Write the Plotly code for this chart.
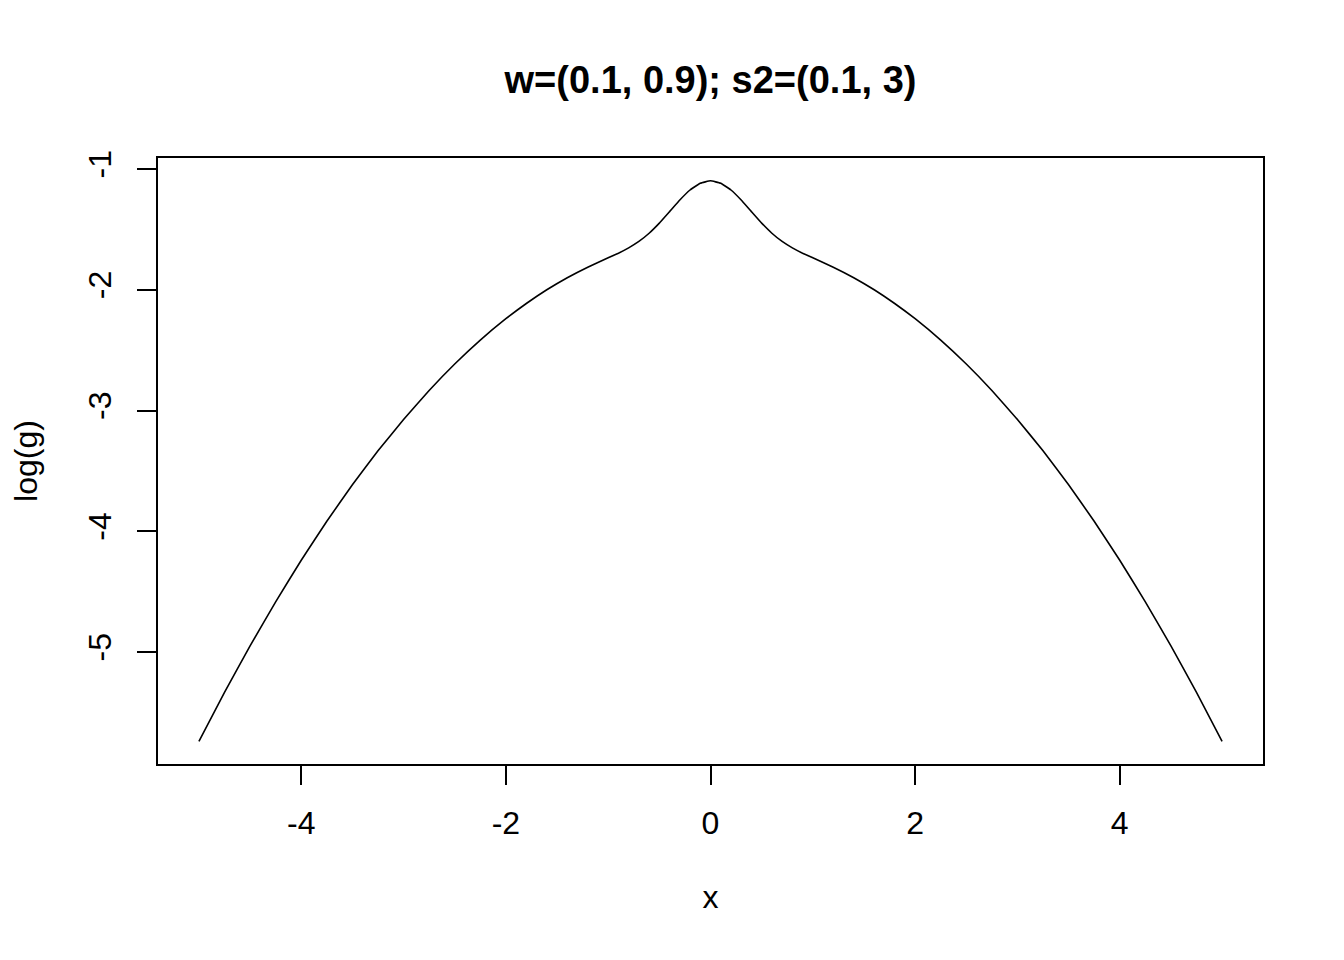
import plotly.graph_objects as go

# log density (symmetric about 0)
x_vals = [-5.0, -4.75, -4.5, -4.25, -4.0, -3.75, -3.5, -3.25, -3.0, -2.75, -2.5, -2.25,
          -2.0, -1.8, -1.6, -1.4, -1.2, -1.0, -0.9, -0.8, -0.7, -0.6, -0.5, -0.4, -0.3,
          -0.2, -0.1, 0.0, 0.1, 0.2, 0.3, 0.4, 0.5, 0.6, 0.7, 0.8, 0.9, 1.0, 1.2, 1.4,
          1.6, 1.8, 2.0, 2.25, 2.5, 2.75, 3.0, 3.25, 3.5, 3.75, 4.0, 4.25, 4.5, 4.75, 5.0]
log_g = [-5.740, -5.334, -4.949, -4.584, -4.240, -3.917, -3.615, -3.334, -3.074, -2.834,
         -2.615, -2.417, -2.240, -2.114, -2.000, -1.900, -1.813, -1.735, -1.697, -1.653,
         -1.600, -1.532, -1.448, -1.353, -1.257, -1.174, -1.118, -1.098, -1.118, -1.174,
         -1.257, -1.353, -1.448, -1.532, -1.600, -1.653, -1.697, -1.735, -1.813, -1.900,
         -2.000, -2.114, -2.240, -2.417, -2.615, -2.834, -3.074, -3.334, -3.615, -3.917,
         -4.240, -4.584, -4.949, -5.334, -5.740]

x_ticks = [-4, -2, 0, 2, 4]
x_labels = ["-4", "-2", "0", "2", "4"]
y_ticks = [-1, -2, -3, -4, -5]
y_labels = ["-1", "-2", "-3", "-4", "-5"]

FONT = "Arial, Liberation Sans, sans-serif"

fig = go.Figure(go.Scatter(
    x=x_vals, y=log_g, mode="lines",
    line=dict(color="black", width=1.6, shape="spline", smoothing=0.3),
    hoverinfo="skip",
))

fig.update_layout(
    width=1344, height=960,
    paper_bgcolor="white", plot_bgcolor="white",
    font=dict(family=FONT, color="black", size=32),
    margin=dict(l=144, r=89, t=150, b=204),
    showlegend=False,
    title=dict(text="<b>w=(0.1, 0.9); s2=(0.1, 3)</b>", x=0.5, xref="paper", xanchor="center",
               y=1 - 72 / 960, yanchor="middle", font=dict(size=38, family=FONT)),
    xaxis=dict(range=[-5.4, 5.4], tickvals=x_ticks, ticktext=x_labels, ticks="outside",
               ticklen=19, tickwidth=2, tickcolor="black", showline=True, linecolor="black",
               linewidth=2, mirror=True, showgrid=False, zeroline=False,
               ticklabelstandoff=11, tickfont=dict(size=32),
               title=dict(text="x", standoff=45, font=dict(size=32))),
    yaxis=dict(range=[-5.927, -0.909], tickvals=y_ticks, ticktext=y_labels, ticks="outside",
               ticklen=19, tickwidth=2, tickcolor="black", showline=True, linecolor="black",
               linewidth=2, mirror=True, showgrid=False, zeroline=False, tickangle=-90,
               ticklabelstandoff=13, tickfont=dict(size=32),
               title=dict(text="log(g)", standoff=40, font=dict(size=32))),
)

fig.write_html("out.html")
